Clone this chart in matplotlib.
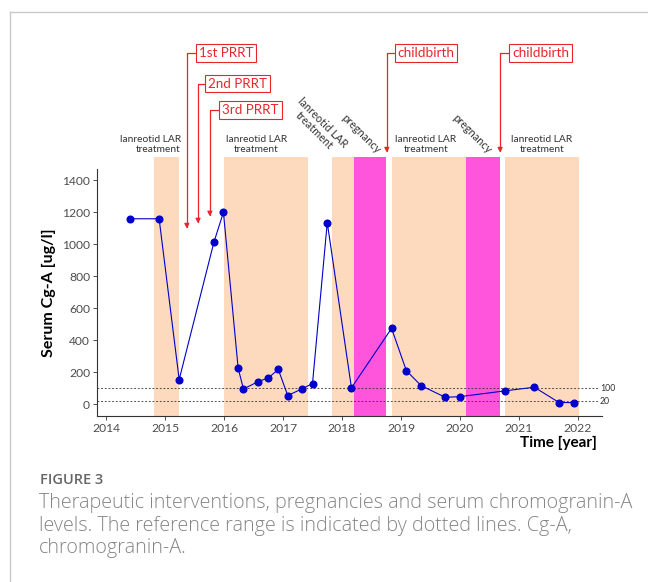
import matplotlib
matplotlib.use('Agg')
import matplotlib.pyplot as plt
from matplotlib.lines import Line2D

# serum Cg-A measurements
years = [2014.41, 2014.90, 2015.24, 2015.83, 2015.99, 2016.24, 2016.33, 2016.58,
         2016.75, 2016.92, 2017.08, 2017.33, 2017.50, 2017.75, 2018.16, 2018.84,
         2019.09, 2019.34, 2019.75, 2020.00, 2020.76, 2021.26, 2021.68, 2021.93]
cga = [1160, 1160, 155, 1015, 1200, 224, 96, 142, 165, 218, 55, 98, 130, 1136,
       103, 475, 211, 117, 44, 48, 84, 107, 11, 11]

# treatment / pregnancy periods
lar_start = [2014.82, 2016.00, 2017.83, 2018.85, 2020.76]
lar_end = [2015.24, 2017.42, 2018.20, 2020.10, 2022.01]
preg_start = [2018.20, 2020.10]
preg_end = [2018.75, 2020.68]

# events
prrt_labels = ['1st PRRT', '2nd PRRT', '3rd PRRT']
prrt_dates = [2015.37, 2015.56, 2015.76]
prrt_tips = [1098, 1130, 1174]
birth_labels = ['childbirth', 'childbirth']
birth_dates = [2018.76, 2020.68]
birth_tip = 1573

ref_levels = [100, 20]
xticks = list(range(2014, 2023))
yticks = list(range(0, 1401, 200))

peach = '#fdd9bd'
pink = '#ff55dd'
red = '#e8262a'
blue = '#0000cc'
dark = '#333333'

W, H = 648, 582
xlim = (2013.847, 2022.407)
ylim = (-73, 1471)

def px2x(px):
    return 2014 + (px - 106) / 59.0

def px2y(py):
    return (404.3 - py) * 6.261

fig = plt.figure(figsize=(W / 100, H / 100), dpi=100)
ax = fig.add_axes([97 / W, 1 - 416 / H, 505 / W, 247 / H])
ax.set_xlim(*xlim)
ax.set_ylim(*ylim)

top_frac = (1548 - ylim[0]) / (ylim[1] - ylim[0])
for s, e in zip(lar_start, lar_end):
    ax.axvspan(s, e, ymin=0, ymax=top_frac, color=peach, lw=0, clip_on=False, zorder=0)
for s, e in zip(preg_start, preg_end):
    ax.axvspan(s, e, ymin=0, ymax=top_frac, color=pink, lw=0, clip_on=False, zorder=0)

ax.hlines(ref_levels, xlim[0], 2022.34, colors=dark, linestyles=(0, (2.2, 2.2)), lw=0.6, zorder=1)
for lv in ref_levels:
    ax.text(2022.37, lv, str(lv), fontsize=6.3, va='center', ha='left', color=dark,
            family='Lato')

ax.plot(years, cga, '-o', color=blue, lw=0.8, ms=4.8, zorder=3, clip_on=False)

# PRRT and childbirth arrows
box = dict(boxstyle='square,pad=0.22', fc='white', ec=red, lw=0.8)
arrow = dict(arrowstyle='-|>', color=red, lw=0.9, shrinkA=0, shrinkB=0, mutation_scale=7,
             connectionstyle='angle,angleA=0,angleB=90,rad=0')
prrt_box_x = [226, 237.5, 250.5]
prrt_box_y = [53.5, 84, 110.5]
for lab, d, tip, bx, by in zip(prrt_labels, prrt_dates, prrt_tips, prrt_box_x, prrt_box_y):
    ax.annotate(lab, xy=(d, tip), xytext=(px2x(bx), px2y(by)), ha='center', va='center',
                color=red, fontsize=9.6, family='Lato', annotation_clip=False,
                bbox=box, arrowprops=arrow)
birth_box_x = [426, 540.5]
for lab, d, bx in zip(birth_labels, birth_dates, birth_box_x):
    ax.annotate(lab, xy=(d, birth_tip), xytext=(px2x(bx), px2y(54)), ha='center', va='center',
                color=red, fontsize=9.8, family='Lato', annotation_clip=False,
                bbox=box, arrowprops=arrow)

# period labels
lar_txt = 'lanreotid LAR\ntreatment'
ax.text(px2x(181), px2y(154), lar_txt, ha='right', va='bottom', multialignment='right',
        fontsize=7.4, color=dark, family='Lato', linespacing=1.1)
for cx in [256.5, 426, 542]:
    ax.text(px2x(cx), px2y(154), lar_txt, ha='center', va='bottom', multialignment='center',
            fontsize=7.4, color=dark, family='Lato', linespacing=1.1)
ax.text(px2x(318), px2y(127), lar_txt, ha='center', va='center', multialignment='center',
        rotation=-45, rotation_mode='anchor', fontsize=7.8, color=dark, family='Lato',
        linespacing=1.1)
for cx in [361, 472]:
    ax.text(px2x(cx), px2y(134), 'pregnancy', ha='center', va='center', rotation=-45,
            rotation_mode='anchor', fontsize=7.8, color=dark, family='Lato')

for side in ['top', 'right']:
    ax.spines[side].set_visible(False)
for side in ['left', 'bottom']:
    ax.spines[side].set_color(dark)
    ax.spines[side].set_linewidth(0.8)
ax.set_xticks(xticks)
ax.set_yticks(yticks)
ax.tick_params(colors=dark, labelcolor='#4d4d4d', labelsize=8.7, length=3, width=0.6, pad=2)
for t in ax.get_xticklabels() + ax.get_yticklabels():
    t.set_family('Lato')
ax.set_ylabel('Serum Cg-A [ug/l]', fontsize=11.5, fontweight='bold', family='Lato',
              color='black', labelpad=4)
ax.text(597, H - 443, 'Time [year]', transform=None, ha='right', va='center',
        fontsize=11, fontweight='bold', family='Lato', color='black')

# frame and caption
fig.add_artist(Line2D([9.5 / W, 9.5 / W], [0, 1 - 11.5 / H], transform=fig.transFigure,
                      color='#c8c8c8', lw=1))
fig.add_artist(Line2D([9.5 / W, 1], [1 - 11.5 / H, 1 - 11.5 / H], transform=fig.transFigure,
                      color='#c8c8c8', lw=1))
fig.text(40 / W, 1 - 484 / H, 'FIGURE 3', fontsize=10.5, color='#666666', family='Open Sans',
         fontweight='semibold', va='baseline')
caption = ['Therapeutic interventions, pregnancies and serum chromogranin-A',
           'levels. The reference range is indicated by dotted lines. Cg-A,',
           'chromogranin-A.']
for line, by in zip(caption, [508, 530.5, 553]):
    fig.text(39 / W, 1 - by / H, line, fontsize=14.2, color='#858585', family='Open Sans',
             fontweight='light', va='baseline')

fig.savefig('out.png', dpi=100)
